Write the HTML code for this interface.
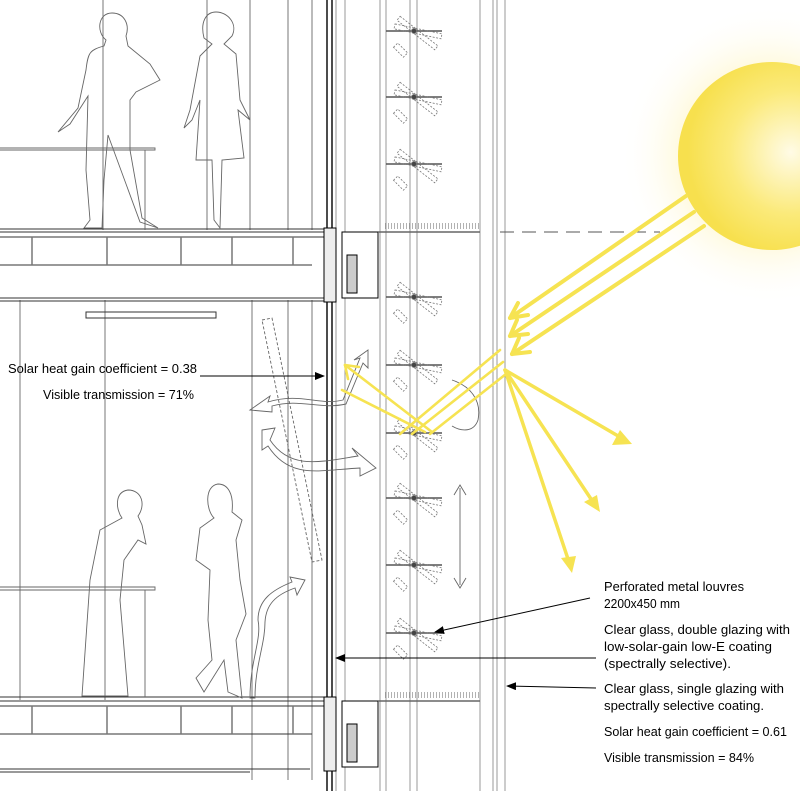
<!DOCTYPE html>
<html><head><meta charset="utf-8"><style>
html,body{margin:0;padding:0;background:#fff;}
svg{display:block;}
text{font-family:"Liberation Sans",Arial,sans-serif;font-size:12.5px;fill:#000;}
</style></head><body>
<svg width="800" height="791" viewBox="0 0 800 791" xmlns="http://www.w3.org/2000/svg">
<defs>
<radialGradient id="sun" cx="0.6" cy="0.48" r="0.55">
<stop offset="0" stop-color="#fffbe6"/><stop offset="0.6" stop-color="#fbea7a"/><stop offset="1" stop-color="#f7e04e"/>
</radialGradient>
<radialGradient id="glow" cx="0.5" cy="0.5" r="0.5">
<stop offset="0.5" stop-color="#fff6c8" stop-opacity="0.9"/><stop offset="1" stop-color="#fff" stop-opacity="0"/>
</radialGradient>
<g id="lv" stroke="#777" stroke-width="0.8" fill="none">
<line x1="-28" y1="0" x2="28" y2="0" stroke="#555" stroke-width="1.5"/>
<rect x="-20" y="-3" width="48" height="5" stroke-dasharray="2 1.5" transform="rotate(12)"/>
<rect x="-20" y="-3" width="48" height="5" stroke-dasharray="2 1.5" transform="rotate(38)"/>
<rect x="-26" y="-3" width="6" height="14" stroke-dasharray="2 1.5" transform="rotate(-45)"/>
<circle r="2.5" fill="#444"/>
</g>
<marker id="ah" markerWidth="10" markerHeight="8" refX="9" refY="4" orient="auto" markerUnits="userSpaceOnUse"><path d="M0,0 L10,4 L0,8 z" fill="#000"/></marker>
</defs>

<!-- sun -->
<circle cx="770" cy="155" r="150" fill="url(#glow)"/>
<circle cx="772" cy="156" r="94" fill="url(#sun)"/>

<!-- vertical structure lines -->
<g stroke="#555" stroke-width="0.8">
<line x1="103" y1="0" x2="103" y2="230"/><line x1="207" y1="0" x2="207" y2="230"/>
<line x1="250" y1="0" x2="250" y2="230"/><line x1="288" y1="0" x2="288" y2="230"/>
<line x1="312" y1="0" x2="312" y2="230"/>
<line x1="20" y1="300" x2="20" y2="700"/><line x1="105" y1="300" x2="105" y2="700"/>
<line x1="252" y1="300" x2="252" y2="780"/><line x1="288" y1="300" x2="288" y2="780"/>
<line x1="312" y1="300" x2="312" y2="780"/>
</g>
<!-- glazing -->
<g stroke="#000">
<line x1="327" y1="0" x2="327" y2="791" stroke-width="1.4"/>
<line x1="332" y1="0" x2="332" y2="791" stroke-width="1.4"/>
</g>
<line x1="336" y1="0" x2="336" y2="791" stroke="#999"/>
<g stroke="#999" stroke-width="1">
<line x1="345" y1="0" x2="345" y2="791"/>
<line x1="380" y1="0" x2="380" y2="791"/><line x1="386" y1="0" x2="386" y2="791"/>
<line x1="410" y1="0" x2="410" y2="791"/><line x1="417" y1="0" x2="417" y2="791"/>
<line x1="480" y1="0" x2="480" y2="791"/>
<line x1="493" y1="0" x2="493" y2="791"/><line x1="497" y1="0" x2="497" y2="791"/>
<line x1="505" y1="0" x2="505" y2="791"/>
</g>
<line x1="500" y1="232" x2="660" y2="232" stroke="#555" stroke-dasharray="14 8"/>

<!-- floors -->
<g stroke="#333" fill="none" stroke-width="1">
<line x1="0" y1="229" x2="325" y2="229"/><line x1="0" y1="232" x2="325" y2="232"/>
<line x1="0" y1="237" x2="325" y2="237"/>
<line x1="0" y1="265" x2="312" y2="265"/><line x1="0" y1="298" x2="325" y2="298"/><line x1="0" y1="301" x2="325" y2="301"/>
<line x1="0" y1="697" x2="325" y2="697"/><line x1="0" y1="701" x2="325" y2="701"/>
<line x1="0" y1="706" x2="325" y2="706"/>
<line x1="0" y1="734" x2="312" y2="734"/><line x1="0" y1="769" x2="310" y2="769"/><line x1="0" y1="772" x2="250" y2="772"/>
</g>
<g stroke="#777" stroke-width="1.5">
<line x1="32" y1="237" x2="32" y2="265"/><line x1="107" y1="237" x2="107" y2="265"/><line x1="181" y1="237" x2="181" y2="265"/><line x1="232" y1="237" x2="232" y2="265"/><line x1="293" y1="237" x2="293" y2="265"/>
<line x1="32" y1="706" x2="32" y2="734"/><line x1="107" y1="706" x2="107" y2="734"/><line x1="181" y1="706" x2="181" y2="734"/><line x1="232" y1="706" x2="232" y2="734"/><line x1="293" y1="706" x2="293" y2="734"/>
</g>
<!-- insulated columns -->
<g stroke="#000" fill="#fff">
<rect x="324" y="228" width="12" height="74" fill="#eee"/>
<rect x="324" y="697" width="12" height="74" fill="#eee"/>
<rect x="342" y="232" width="36" height="66"/>
<rect x="342" y="701" width="36" height="66"/>
<rect x="347" y="255" width="10" height="38" fill="#ccc"/>
<rect x="347" y="724" width="10" height="38" fill="#ccc"/>
</g>
<g stroke="#666">
<line x1="378" y1="232" x2="480" y2="232" stroke-width="1.5"/>
<line x1="385" y1="226" x2="480" y2="226" stroke-dasharray="1 2" stroke-width="6" stroke-opacity="0.5"/>
<line x1="378" y1="701" x2="480" y2="701" stroke-width="1.5"/>
<line x1="385" y1="695" x2="480" y2="695" stroke-dasharray="1 2" stroke-width="6" stroke-opacity="0.5"/>
</g>
<!-- light fixture -->
<rect x="86" y="312" width="130" height="6" fill="none" stroke="#333"/>

<!-- louvres -->
<use href="#lv" x="414" y="31"/><use href="#lv" x="414" y="97"/><use href="#lv" x="414" y="164"/>
<use href="#lv" x="414" y="297"/><use href="#lv" x="414" y="365"/><use href="#lv" x="414" y="433"/>
<use href="#lv" x="414" y="498"/><use href="#lv" x="414" y="565"/><use href="#lv" x="414" y="633"/>

<!-- people -->
<g fill="none" stroke="#666" stroke-width="0.9">
<path d="M112,13 C98,13 96,32 106,40 L104,46 C90,50 88,52 86,70 L78,108 L58,132 L70,124 L88,96 L86,170 L90,220 L84,228 L102,228 L104,180 L108,135 L140,222 L158,228 L142,218 L130,150 L130,100 L136,92 L160,80 L150,64 L128,46 L126,36 C130,24 124,13 112,13 Z"/>
<path d="M216,12 C206,12 200,22 204,38 L212,44 L200,56 L190,110 L184,128 L192,120 L200,100 L196,160 L212,160 L214,220 L220,228 L222,160 L244,158 L238,110 L250,120 L240,100 L236,54 L224,44 L232,36 C238,24 228,12 216,12 Z"/>
<path d="M128,490 C114,492 116,510 122,518 L100,530 L90,580 L82,696 L128,696 L120,600 L124,560 L138,540 L146,544 L142,525 L138,516 C146,505 142,490 128,490 Z"/>
<path d="M218,484 C204,486 206,510 214,518 L200,528 L196,560 L210,570 L208,620 L212,660 L196,678 L204,692 L224,660 L228,692 L242,698 L236,640 L246,614 L240,580 L236,540 L242,520 L232,512 C234,494 228,484 218,484 Z"/>
<path d="M0,148 L155,148 L155,150 L0,150 M0,587 L155,587 L155,590 L0,590 M145,150 L145,230 M145,590 L145,697"/>
<!-- airflow arrows -->
<path d="M262,320 L272,318 L322,560 L312,562 Z" stroke-dasharray="3 2"/>
<path d="M250,410 L270,396 L268,402 C300,392 320,406 343,400 L360,358 L354,360 L368,350 L368,368 L363,363 L346,404 C320,410 300,398 272,406 L272,412 Z"/>
<path d="M262,430 L275,428 L270,440 C290,470 320,462 358,456 L352,448 L376,468 L360,476 L360,468 C320,470 290,480 268,446 L262,450 Z"/>
<path d="M250,698 C250,660 262,640 258,620 C258,600 272,590 292,582 L290,577 L305,580 L297,595 L295,588 C275,595 266,605 265,622 C265,645 255,665 255,698 Z"/>
<path d="M452,380 C470,386 482,400 478,420 C474,432 462,432 452,426" />
<path d="M460,488 L460,585 M454,495 L460,485 L466,495 M454,578 L460,588 L466,578"/>
</g>

<!-- yellow rays -->
<g stroke="#f6e352" stroke-width="4" fill="none" stroke-linecap="round" stroke-linejoin="round">
<line x1="686" y1="196" x2="510" y2="318"/><line x1="694" y1="212" x2="510" y2="336"/><line x1="704" y1="226" x2="512" y2="354"/>
<path d="M510,318 l18,-3 M510,318 l8,-15"/>
<path d="M510,336 l18,-2 M510,336 l7,-16"/>
<path d="M512,354 l18,-2 M512,354 l7,-16"/>
<g stroke-width="2.6">
<line x1="500" y1="350" x2="400" y2="434"/><line x1="503" y1="362" x2="412" y2="434"/><line x1="506" y1="374" x2="430" y2="434"/>
<line x1="432" y1="432" x2="345" y2="365"/><line x1="425" y1="432" x2="342" y2="390"/>
<path d="M345,365 l3,14 M345,365 l14,2"/>
</g>
<g stroke-width="3.5">
<line x1="505" y1="370" x2="625" y2="440"/><line x1="505" y1="370" x2="595" y2="505"/><line x1="505" y1="370" x2="570" y2="565"/>
</g>
</g>
<g fill="#f6e352">
<path d="M632,444 L612,445 L620,430 Z"/>
<path d="M600,512 L584,502 L597,495 Z"/>
<path d="M572,573 L561,558 L576,556 Z"/>
</g>

<!-- labels -->
<text x="8" y="373" textLength="189" lengthAdjust="spacingAndGlyphs">Solar heat gain coefficient = 0.38</text>
<text x="43" y="399" textLength="151" lengthAdjust="spacingAndGlyphs">Visible transmission = 71%</text>
<line x1="200" y1="376" x2="324" y2="376" stroke="#000" marker-end="url(#ah)"/>

<text x="604" y="591" textLength="140" lengthAdjust="spacingAndGlyphs">Perforated metal louvres</text>
<text x="604" y="608" textLength="76" lengthAdjust="spacingAndGlyphs">2200x450 mm</text>
<text x="604" y="634" textLength="186" lengthAdjust="spacingAndGlyphs">Clear glass, double glazing with</text>
<text x="604" y="651" textLength="168" lengthAdjust="spacingAndGlyphs">low-solar-gain low-E coating</text>
<text x="604" y="668" textLength="127" lengthAdjust="spacingAndGlyphs">(spectrally selective).</text>
<text x="604" y="693" textLength="180" lengthAdjust="spacingAndGlyphs">Clear glass, single glazing with</text>
<text x="604" y="710" textLength="160" lengthAdjust="spacingAndGlyphs">spectrally selective coating.</text>
<text x="604" y="736" textLength="183" lengthAdjust="spacingAndGlyphs">Solar heat gain coefficient = 0.61</text>
<text x="604" y="762" textLength="150" lengthAdjust="spacingAndGlyphs">Visible transmission = 84%</text>
<g stroke="#000" fill="none">
<line x1="590" y1="598" x2="435" y2="632" marker-end="url(#ah)"/>
<line x1="596" y1="658" x2="336" y2="658" marker-end="url(#ah)"/>
<line x1="596" y1="688" x2="507" y2="686" marker-end="url(#ah)"/>
</g>
</svg>
</body></html>
